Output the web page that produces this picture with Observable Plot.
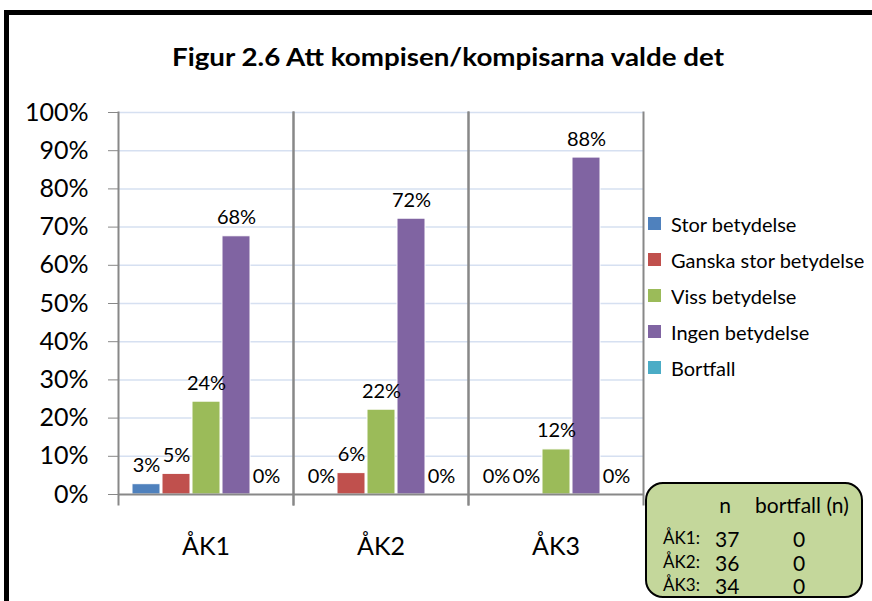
<!DOCTYPE html>
<html><head><meta charset="utf-8">
<script src="https://cdn.jsdelivr.net/npm/d3@7"></script>
<script src="https://cdn.jsdelivr.net/npm/@observablehq/plot@0.6"></script>
<style>
body{margin:0;background:#fff;}
#wrap{position:relative;width:872px;height:601px;overflow:hidden;background:#fff;font-family:Lato,"DejaVu Sans",sans-serif;}
#border{position:absolute;left:4px;top:10px;width:900px;height:700px;border:5px solid #000;box-sizing:border-box;}
#chart{position:absolute;left:0;top:0;}
#legend{position:absolute;left:648px;top:206px;}
#nbox{position:absolute;left:645px;top:482px;width:218px;height:116px;box-sizing:border-box;border:2.5px solid #000;border-radius:18px;background:#c4d79b;}
#overlay{position:absolute;left:0;top:0;}
.lg-swatch{margin:0 !important;height:35px;padding-bottom:1px;}
</style>
</head><body>
<div id="wrap">
  <div id="border"></div>
  <div id="chart"></div>
  <div id="legend"></div>
  <div id="nbox"></div>
  <svg id="overlay" width="872" height="601"></svg>
</div>
<script>
const titleText = "Figur 2.6 Att kompisen/kompisarna valde det";
const categories = ["ÅK1", "ÅK2", "ÅK3"];
const seriesNames = ["Stor betydelse", "Ganska stor betydelse", "Viss betydelse", "Ingen betydelse", "Bortfall"];
const seriesColors = ["#4F81BD", "#C0504D", "#9BBB59", "#8064A2", "#4BACC6"];
const storBetydelse = [2.7, 0, 0];
const ganskaStorBetydelse = [5.4, 5.6, 0];
const vissBetydelse = [24.3, 22.2, 11.8];
const ingenBetydelse = [67.6, 72.2, 88.2];
const bortfall = [0, 0, 0];
const yTicks = [0, 10, 20, 30, 40, 50, 60, 70, 80, 90, 100];
const nValues = [37, 36, 34];
const bortfallN = [0, 0, 0];
const boxHeader = ["n", "bortfall (n)"];

const seriesValues = [storBetydelse, ganskaStorBetydelse, vissBetydelse, ingenBetydelse, bortfall];
const rows = categories.flatMap((c, i) => seriesNames.map((s, k) => ({cat: c, series: s, value: seriesValues[k][i]})));

const chart = Plot.plot({
  width: 872, height: 601,
  marginLeft: 117, marginRight: 229, marginTop: 112, marginBottom: 107,
  style: {fontFamily: "Lato, sans-serif", color: "#000", background: "transparent", overflow: "visible"},
  fx: {domain: categories, padding: 0, label: null},
  x: {domain: seriesNames, paddingInner: 0.07, paddingOuter: 0.4, axis: null},
  y: {domain: [0, 100], axis: null},
  color: {domain: seriesNames, range: seriesColors},
  marks: [
    Plot.ruleY(yTicks.filter(d => d > 0), {stroke: "#d6e0f1", strokeWidth: 1.5}),
    Plot.barY(rows, {fx: "cat", x: "series", y: "value", fill: "series", stroke: "#fff", strokeWidth: 1}),
    Plot.text(rows, {fx: "cat", x: "series", y: "value", text: d => Math.round(d.value) + "%", lineAnchor: "bottom", dy: -12, fontSize: 20, fill: "#000"}),
    Plot.ruleY([0], {stroke: "#888", strokeWidth: 2}),
    Plot.frame({anchor: "left", stroke: "#888", strokeWidth: 2, insetBottom: -10}),
    Plot.frame({anchor: "right", stroke: "#888", strokeWidth: 2, insetBottom: -10}),
    Plot.axisY(yTicks, {tickSize: 10, tickPadding: 20, tickFormat: d => d + "%", fontSize: 25, stroke: "#888", fill: "#000", label: null}),
    Plot.axisFx({anchor: "bottom", tickSize: 0, tickPadding: 43, fontSize: 25, label: null, fill: "#000"})
  ]
});
document.getElementById("chart").appendChild(chart);

const legend = Plot.legend({
  color: {type: "ordinal", domain: seriesNames, range: seriesColors},
  legend: "swatches", columns: 1, swatchSize: 13, className: "lg",
  style: {fontFamily: "Lato, sans-serif", fontSize: "20px", color: "#000"}
});
document.getElementById("legend").appendChild(legend);

// Title and n-box text
const svg = d3.select("#overlay");
svg.append("text").attr("x", 448).attr("y", 66).attr("text-anchor", "middle")
  .attr("font-family", "Lato, sans-serif").attr("font-weight", "bold").attr("font-size", 25)
  .attr("textLength", 552).attr("lengthAdjust", "spacingAndGlyphs").text(titleText);

const bx = 645, by = 482;
const g = svg.append("g").attr("font-family", "Lato, sans-serif").attr("fill", "#000");
g.append("text").attr("x", bx + 80).attr("y", by + 31).attr("text-anchor", "middle").attr("font-size", 21).text(boxHeader[0]);
g.append("text").attr("x", bx + 110).attr("y", by + 31).attr("font-size", 21).text(boxHeader[1]);
categories.forEach((c, i) => {
  const yy = by + 63 + i * 23.5;
  g.append("text").attr("x", bx + 18).attr("y", yy - 1).attr("font-size", 17).text(c + ":");
  g.append("text").attr("x", bx + 70).attr("y", yy + 2).attr("font-size", 21).text(nValues[i]);
  g.append("text").attr("x", bx + 154).attr("y", yy + 2).attr("text-anchor", "middle").attr("font-size", 21).text(bortfallN[i]);
});
</script>
</body></html>
